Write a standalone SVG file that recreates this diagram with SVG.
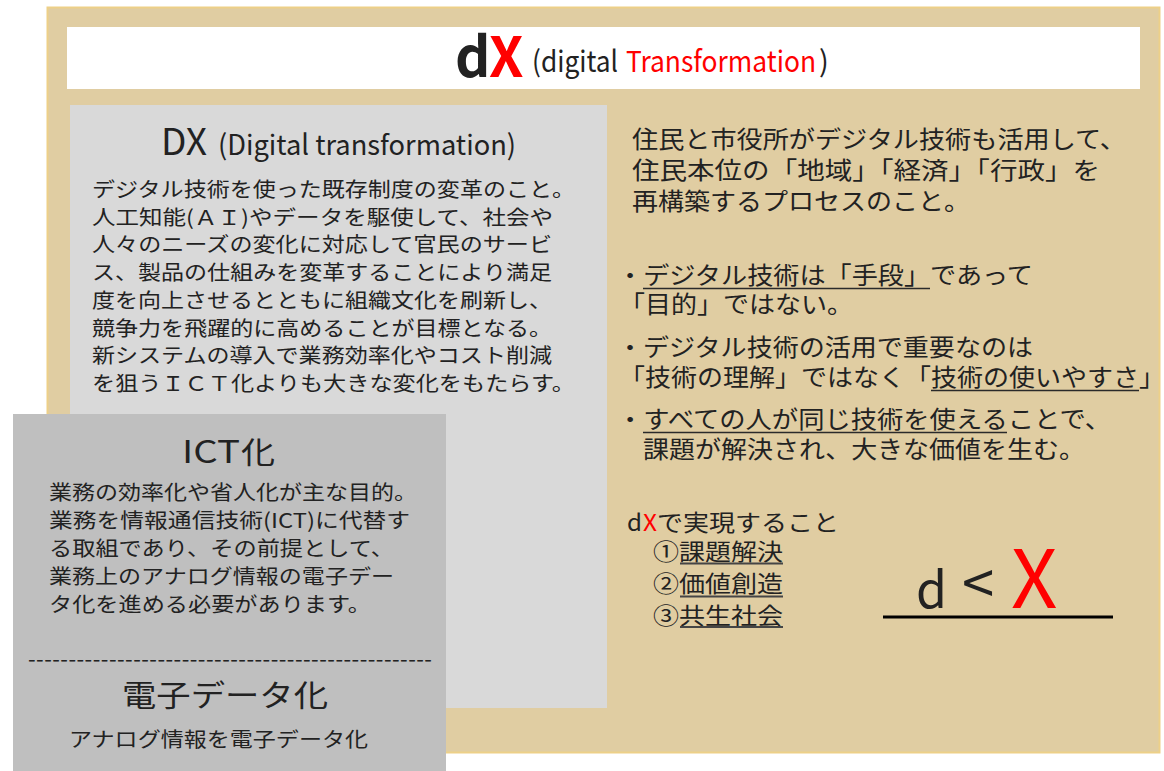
<svg xmlns="http://www.w3.org/2000/svg" width="1164" height="771" viewBox="0 0 1164 771">
<style>
.t{font-family:"Noto Sans CJK JP","Noto Sans",sans-serif;fill:#222}
.r{fill:#ff0000}
.b{font-size:20.5px}
.m{font-size:24px}
.ul{stroke:#2a2a2a;stroke-width:1.4}
.ul2{stroke:#454545;stroke-width:2}
</style>
<rect x="0" y="0" width="1164" height="771" fill="#ffffff"/>
<g id="frame">
<rect x="47.5" y="7.5" width="1112" height="745" fill="#e0cda2" stroke="#edd088" stroke-width="2"/>
</g>
<g id="title">
<rect x="67" y="27" width="1073" height="62" fill="#ffffff"/>
<text class="t" x="455" y="77" font-size="55" font-weight="bold" fill="#111">d</text>
<text class="t r" x="489" y="77" font-size="55" font-weight="bold">X</text>
<text class="t" x="532" y="71.5" font-size="29" textLength="86" lengthAdjust="spacingAndGlyphs">(digital</text>
<text class="t r" x="626" y="71.5" font-size="29" textLength="190" lengthAdjust="spacingAndGlyphs">Transformation</text>
<text class="t" x="819" y="71.5" font-size="29">)</text>
</g>
<g id="dx-box">
<rect x="70" y="105" width="537" height="603" fill="#d9d9d9"/>
<text class="t" x="161" y="155" font-size="37">DX</text>
<text class="t" x="218" y="155" font-size="28" textLength="298" lengthAdjust="spacingAndGlyphs">(Digital transformation)</text>
<text class="t b" x="92" y="197" textLength="483" lengthAdjust="spacingAndGlyphs">デジタル技術を使った既存制度の変革のこと。</text>
<text class="t b" x="92" y="224.7" textLength="461" lengthAdjust="spacingAndGlyphs">人工知能(ＡＩ)やデータを駆使して、社会や</text>
<text class="t b" x="92" y="252.4" textLength="460" lengthAdjust="spacingAndGlyphs">人々のニーズの変化に対応して官民のサービ</text>
<text class="t b" x="92" y="280.1" textLength="460" lengthAdjust="spacingAndGlyphs">ス、製品の仕組みを変革することにより満足</text>
<text class="t b" x="92" y="307.8" textLength="460" lengthAdjust="spacingAndGlyphs">度を向上させるとともに組織文化を刷新し、</text>
<text class="t b" x="92" y="335.5" textLength="460" lengthAdjust="spacingAndGlyphs">競争力を飛躍的に高めることが目標となる。</text>
<text class="t b" x="92" y="363.2" textLength="460" lengthAdjust="spacingAndGlyphs">新システムの導入で業務効率化やコスト削減</text>
<text class="t b" x="92" y="390.9" textLength="483" lengthAdjust="spacingAndGlyphs">を狙うＩＣＴ化よりも大きな変化をもたらす。</text>
</g>
<g id="ict-box">
<rect x="13" y="414" width="433" height="357" fill="#bfbfbf"/>
<text class="t" x="182" y="463" font-size="31" textLength="58" lengthAdjust="spacingAndGlyphs">ICT</text>
<text class="t" x="241" y="463" font-size="30" textLength="34" lengthAdjust="spacingAndGlyphs">化</text>
<text class="t b" x="49" y="500" textLength="368" lengthAdjust="spacingAndGlyphs">業務の効率化や省人化が主な目的。</text>
<text class="t b" x="49" y="528" textLength="361" lengthAdjust="spacingAndGlyphs">業務を情報通信技術(ICT)に代替す</text>
<text class="t b" x="49" y="555.5" textLength="345" lengthAdjust="spacingAndGlyphs">る取組であり、その前提として、</text>
<text class="t b" x="49" y="583.5" textLength="345" lengthAdjust="spacingAndGlyphs">業務上のアナログ情報の電子デー</text>
<text class="t b" x="49" y="612" textLength="322" lengthAdjust="spacingAndGlyphs">タ化を進める必要があります。</text>
<text class="t" x="28" y="667" font-size="22" textLength="404" lengthAdjust="spacing">--------------------------------------------------</text>
<text class="t" x="122" y="706" font-size="30" textLength="206" lengthAdjust="spacingAndGlyphs">電子データ化</text>
<text class="t b" x="69" y="746.5" textLength="299" lengthAdjust="spacingAndGlyphs">アナログ情報を電子データ化</text>
</g>
<g id="definition">
<text class="t m" x="632" y="147.5" textLength="494" lengthAdjust="spacingAndGlyphs">住民と市役所がデジタル技術も活用して、</text>
<text class="t m" x="632" y="178.5" textLength="468" lengthAdjust="spacingAndGlyphs">住民本位の「地域」「経済」「行政」を</text>
<text class="t m" x="632" y="209.5" textLength="338" lengthAdjust="spacingAndGlyphs">再構築するプロセスのこと。</text>
</g>
<g id="points">
<text class="t m" x="617" y="284" textLength="416" lengthAdjust="spacingAndGlyphs">・デジタル技術は「手段」であって</text>
<line class="ul" x1="643" y1="288.5" x2="930" y2="288.5"/>
<text class="t m" x="619" y="313" textLength="234" lengthAdjust="spacingAndGlyphs">「目的」ではない。</text>
<text class="t m" x="617" y="356" textLength="416" lengthAdjust="spacingAndGlyphs">・デジタル技術の活用で重要なのは</text>
<text class="t m" x="619" y="386" textLength="546" lengthAdjust="spacingAndGlyphs">「技術の理解」ではなく「技術の使いやすさ」</text>
<line class="ul" x1="931" y1="390.5" x2="1139" y2="390.5"/>
<text class="t m" x="617" y="428" textLength="494" lengthAdjust="spacingAndGlyphs">・すべての人が同じ技術を使えることで、</text>
<line class="ul" x1="643" y1="432.5" x2="1007" y2="432.5"/>
<text class="t m" x="643" y="458" textLength="442" lengthAdjust="spacingAndGlyphs">課題が解決され、大きな価値を生む。</text>
</g>
<g id="goals">
<text class="t" x="627" y="531" font-size="23" textLength="15" lengthAdjust="spacingAndGlyphs">d</text>
<text class="t r" x="643" y="531" font-size="23" textLength="14" lengthAdjust="spacingAndGlyphs">X</text>
<text class="t" x="657" y="531" font-size="22.5" textLength="182" lengthAdjust="spacingAndGlyphs">で実現すること</text>
<text class="t" x="653" y="560" font-size="22.5" textLength="130" lengthAdjust="spacingAndGlyphs">①課題解決</text>
<line class="ul2" x1="680" y1="563.5" x2="783" y2="563.5"/>
<text class="t" x="653" y="592" font-size="22.5" textLength="130" lengthAdjust="spacingAndGlyphs">②価値創造</text>
<line class="ul2" x1="680" y1="596.5" x2="783" y2="596.5"/>
<text class="t" x="653" y="623.5" font-size="22.5" textLength="130" lengthAdjust="spacingAndGlyphs">③共生社会</text>
<line class="ul2" x1="680" y1="627" x2="783" y2="627"/>
</g>
<g id="formula">
<text class="t" x="916" y="608" font-size="50" fill="#000">d</text>
<text class="t" x="962" y="605" font-size="58" fill="#000">&lt;</text>
<text class="t r" x="1011" y="608" font-size="81">X</text>
<line x1="883" y1="617" x2="1113" y2="617" stroke="#000" stroke-width="3"/>
</g>
</svg>
